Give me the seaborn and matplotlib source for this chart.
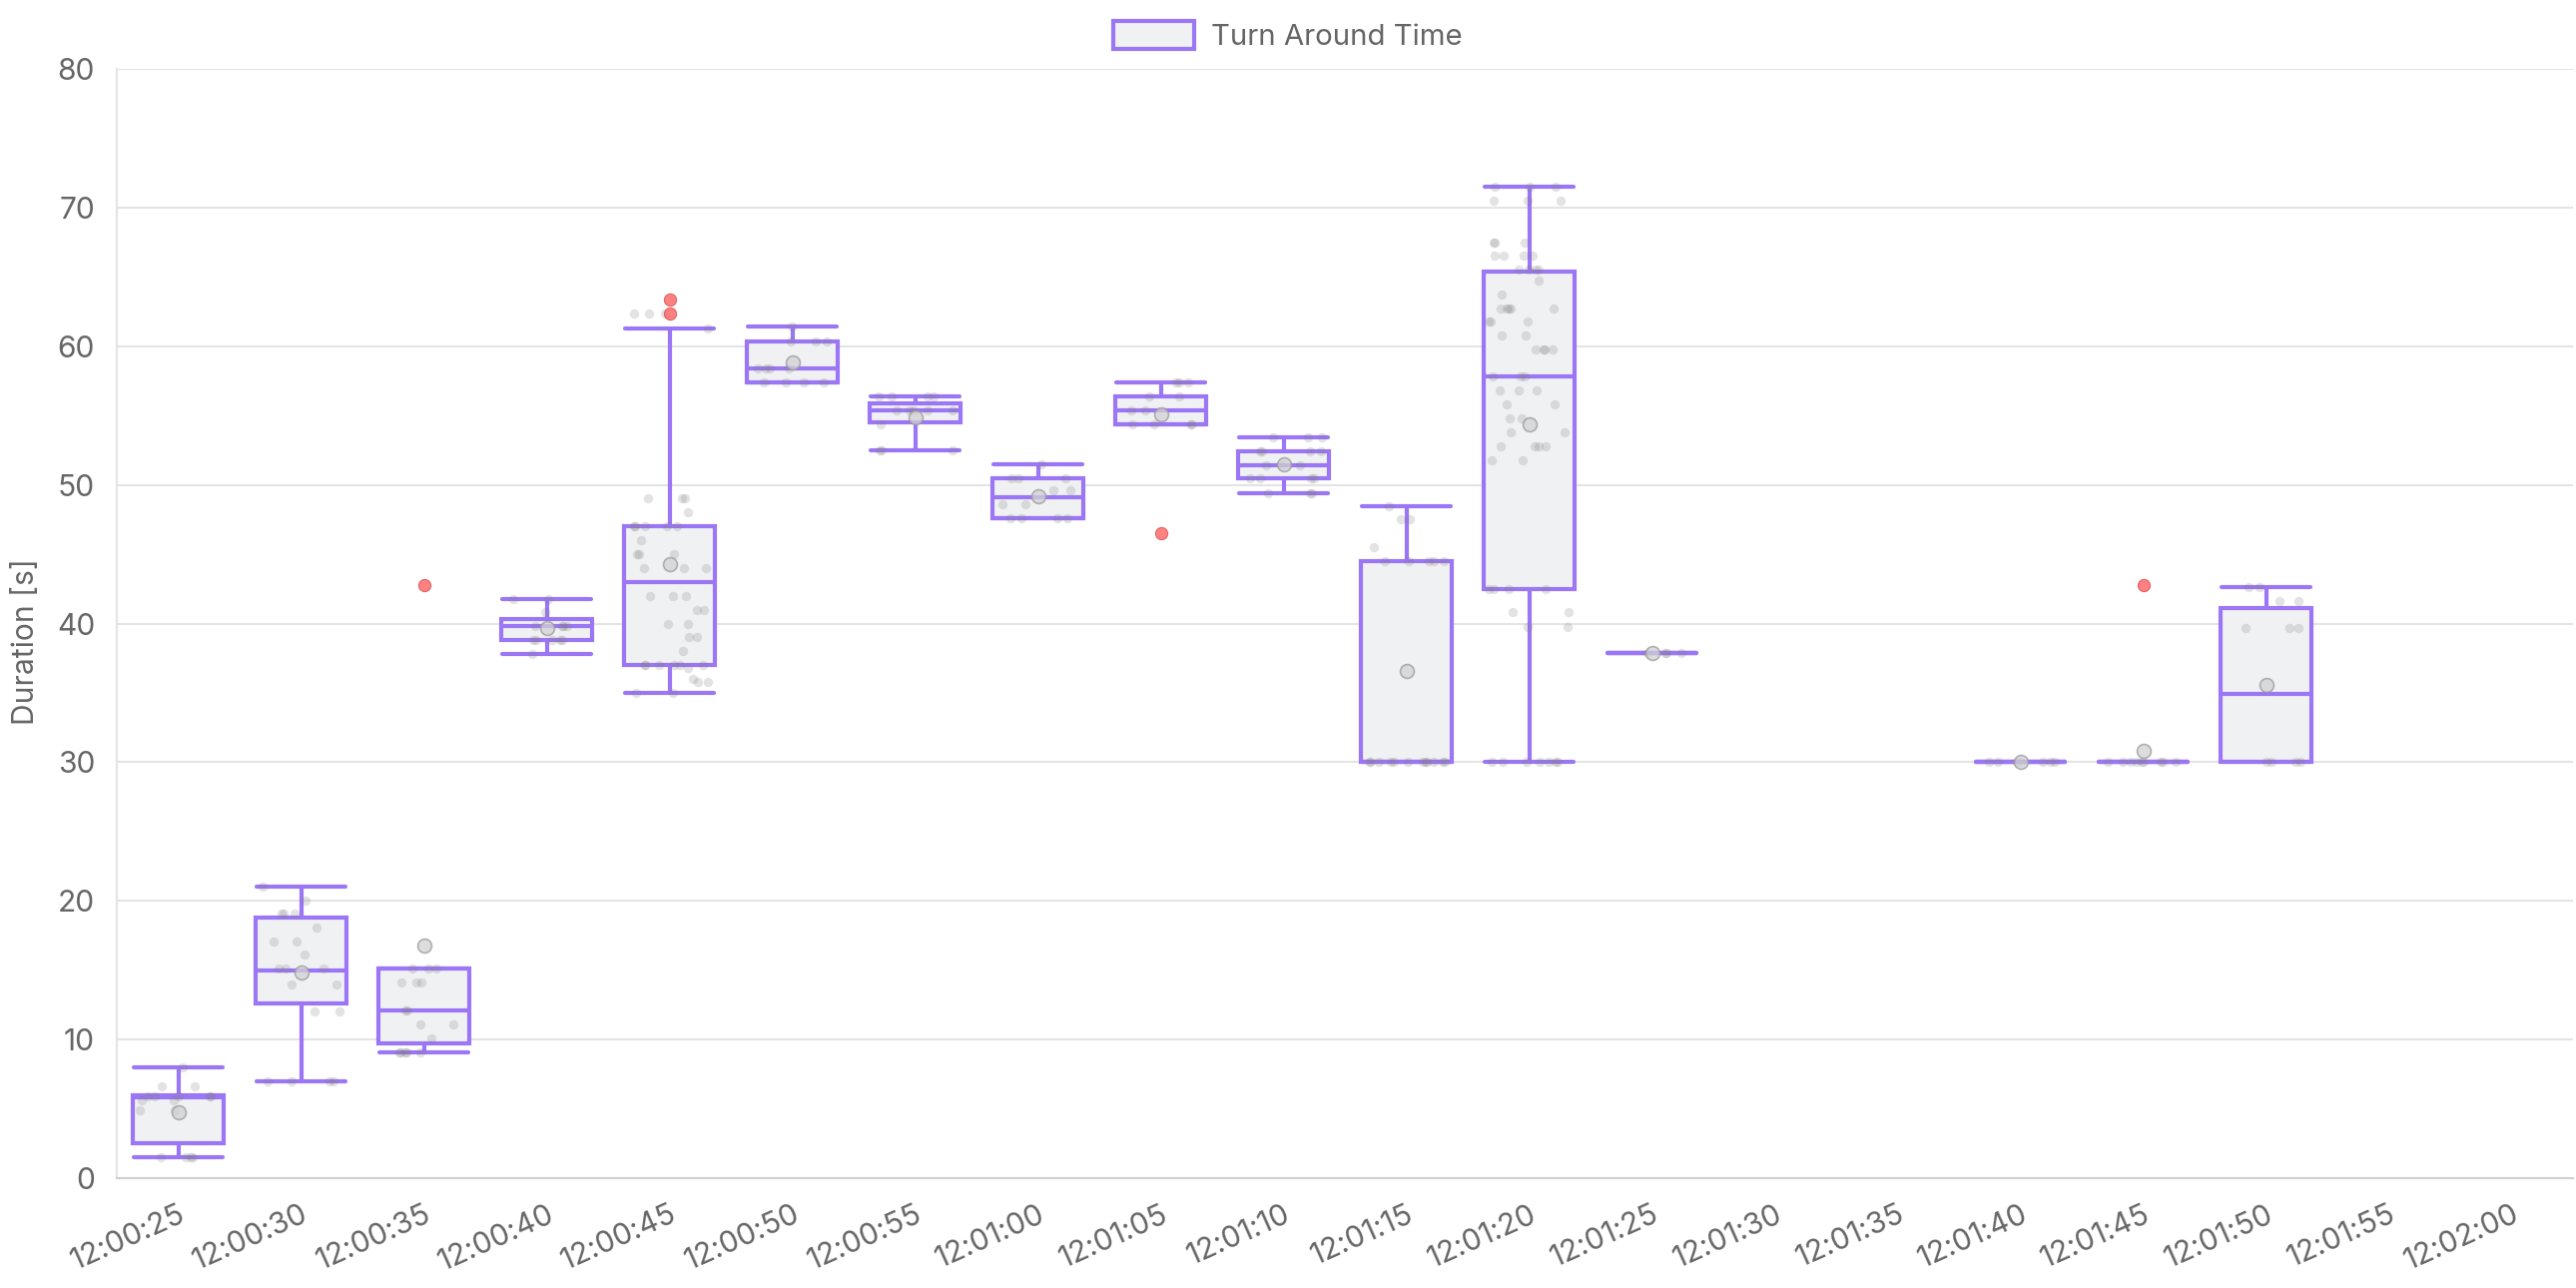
import numpy as np
import pandas as pd
import seaborn as sns
import matplotlib.pyplot as plt
from matplotlib.patches import Patch

# categories on the x axis
times = ['12:00:25', '12:00:30', '12:00:35', '12:00:40', '12:00:45', '12:00:50',
         '12:00:55', '12:01:00', '12:01:05', '12:01:10', '12:01:15', '12:01:20',
         '12:01:25', '12:01:30', '12:01:35', '12:01:40', '12:01:45', '12:01:50',
         '12:01:55', '12:02:00']

# box statistics for the slots that have data
box_times = ['12:00:25', '12:00:30', '12:00:35', '12:00:40', '12:00:45', '12:00:50',
             '12:00:55', '12:01:00', '12:01:05', '12:01:10', '12:01:15', '12:01:20',
             '12:01:25', '12:01:40', '12:01:45', '12:01:50']
lows = [1.5, 7.0, 9.1, 37.8, 35.0, 57.4, 52.5, 47.6, 54.4, 49.4, 30.0, 30.0, 37.9, 30.0, 30.0, 30.0]
q1s = [2.5, 12.6, 9.7, 38.8, 37.0, 57.4, 54.5, 47.6, 54.4, 50.45, 30.0, 42.5, 37.9, 30.0, 30.0, 30.0]
medians = [5.8, 15.0, 12.1, 39.8, 43.0, 58.4, 55.4, 49.1, 55.4, 51.4, 30.0, 57.8, 37.9, 30.0, 30.0, 34.9]
q3s = [6.0, 18.8, 15.1, 40.3, 47.0, 60.35, 55.9, 50.5, 56.4, 52.4, 44.5, 65.35, 37.9, 30.0, 30.0, 41.1]
highs = [8.0, 21.0, 15.1, 41.8, 61.3, 61.4, 56.4, 51.5, 57.4, 53.4, 48.45, 71.5, 37.9, 30.0, 30.0, 42.6]
means = [4.75, 14.8, 16.75, 39.7, 44.3, 58.8, 54.9, 49.2, 55.05, 51.5, 36.6, 54.4, 37.9, 30.0, 30.84, 35.6]

# outliers
outlier_times = ['12:00:35', '12:00:45', '12:00:45', '12:01:05', '12:01:45']
outlier_values = [42.8, 63.4, 62.35, 46.5, 42.8]

# raw samples per slot
p_0025 = [8.0, 6.6, 6.6, 5.9, 5.9, 5.9, 5.9, 5.9, 5.6, 5.6, 4.9, 4.9, 1.5, 1.5, 1.5, 1.5]
p_0030 = [21.0, 20.0, 19.1, 19.1, 19.1, 18.1, 17.1, 17.1, 16.1, 15.1, 15.1, 15.1,
          14.0, 14.0, 12.0, 12.0, 7.0, 7.0, 7.0, 7.0]
p_0035 = [15.1, 15.1, 15.1, 14.1, 14.1, 14.1, 12.1, 12.1, 11.1, 11.1, 10.1,
          9.1, 9.1, 9.1, 9.1, 9.1]
p_0040 = [41.8, 41.8, 40.8, 39.8, 39.8, 39.8, 39.8, 38.8, 38.8, 38.8, 38.8, 38.8, 37.8]
p_0045 = [62.35, 62.35, 62.35, 61.3, 49.05, 49.05, 49.05, 48.0, 47.0, 47.0, 47.0, 47.0, 47.0,
          46.0, 45.0, 45.0, 45.0, 44.0, 44.0, 44.0, 42.0, 42.0, 42.0, 41.0, 41.0,
          40.0, 40.0, 39.0, 39.0, 38.0, 37.0, 37.0, 37.0, 37.0, 37.0, 37.0,
          36.8, 36.0, 35.8, 35.8, 35.0, 35.0]
p_0050 = [61.4, 60.35, 60.35, 60.35, 58.4, 58.4, 58.4, 58.4, 57.4, 57.4, 57.4, 57.4]
p_0055 = [56.4, 56.4, 56.4, 56.4, 55.4, 55.4, 55.4, 55.4, 55.4, 54.4, 52.5, 52.5, 52.5]
p_0100 = [51.5, 50.5, 50.5, 50.5, 49.6, 49.6, 48.6, 48.6, 47.6, 47.6, 47.6, 47.6]
p_0105 = [57.4, 57.4, 57.4, 56.4, 56.4, 55.4, 55.4, 54.4, 54.4, 54.4, 54.4]
p_0110 = [53.4, 53.4, 53.4, 52.4, 52.4, 52.4, 52.4, 51.4, 51.4, 51.4,
          50.45, 50.45, 50.45, 50.45, 49.4, 49.4, 49.4]
p_0115 = [48.45, 47.5, 47.5, 45.5, 44.5, 44.5, 44.5, 44.5, 44.5,
          30.0, 30.0, 30.0, 30.0, 30.0, 30.0, 30.0, 30.0, 30.0, 30.0, 30.0, 30.0]
p_0120 = [71.5, 71.5, 71.5, 70.5, 70.5, 70.5, 67.5, 67.5, 67.5, 66.5, 66.5, 66.5, 66.5,
          65.5, 65.5, 65.5, 65.5, 64.7, 63.7, 62.75, 62.75, 62.75, 62.75, 62.75,
          61.75, 61.75, 61.75, 60.75, 60.75, 59.8, 59.8, 59.8, 59.8, 57.8, 57.8, 57.8,
          56.8, 56.8, 56.8, 55.8, 55.8, 54.8, 54.8, 53.8, 53.8, 52.8, 52.8, 52.8, 52.8,
          51.8, 51.8, 42.5, 42.5, 42.5, 42.5, 40.8, 40.8, 39.75, 39.75,
          30.0, 30.0, 30.0, 30.0, 30.0, 30.0, 30.0]
p_0125 = [37.9, 37.9, 37.9, 37.9]
p_0140 = [30.0, 30.0, 30.0, 30.0, 30.0, 30.0, 30.0]
p_0145 = [30.0, 30.0, 30.0, 30.0, 30.0, 30.0, 30.0, 30.0, 30.0]
p_0150 = [42.6, 42.6, 41.6, 41.6, 39.7, 39.7, 39.7, 30.0, 30.0, 30.0, 30.0]

samples = [p_0025, p_0030, p_0035, p_0040, p_0045, p_0050, p_0055, p_0100, p_0105,
           p_0110, p_0115, p_0120, p_0125, p_0140, p_0145, p_0150]

purple = '#9B76F5'
box_fill = '#F0F1F3'
text_col = '#666666'
grid_col = '#E4E4E4'

sns.set_style('white')
plt.rcParams['font.family'] = ['Inter', 'DejaVu Sans']

# long tables for seaborn
summary = pd.DataFrame({
    'time': np.repeat(box_times, 5),
    'value': np.column_stack([lows, q1s, medians, q3s, highs]).ravel(),
})
pts = pd.DataFrame({
    'time': np.concatenate([[t] * len(s) for t, s in zip(box_times, samples)]),
    'value': np.concatenate(samples),
})

fig = plt.figure(figsize=(12.9, 6.45), dpi=200)
ax = fig.add_axes([117 / 2580, 1 - 1180 / 1290, 2460 / 2580, 1111 / 1290])

sns.boxplot(data=summary, x='time', y='value', order=times, whis=(0, 100),
            width=0.74, color=box_fill, linecolor=purple, linewidth=1.5,
            saturation=1, showfliers=False, capwidths=0.72, ax=ax)

np.random.seed(3)
sns.stripplot(data=pts, x='time', y='value', order=times, jitter=0.33,
              size=3.4, color='#808080', alpha=0.22, linewidth=0, ax=ax)

sns.stripplot(x=box_times, y=means, order=times, jitter=False, size=5.0,
              color='#D2D2D5', edgecolor='#9A9A9A', linewidth=0.6, alpha=0.75, ax=ax)

sns.stripplot(x=outlier_times, y=outlier_values, order=times, jitter=False, size=4.4,
              color='#FF6B6B', edgecolor='#D95555', linewidth=0.4, alpha=0.85, ax=ax)

ax.set_xlim(-0.5, len(times) - 0.5)
ax.set_ylim(0, 80)
ax.set_yticks(range(0, 81, 10))
ax.yaxis.grid(True, color=grid_col, linewidth=0.75)
ax.xaxis.grid(False)
ax.set_axisbelow(True)
for side in ['top', 'right']:
    ax.spines[side].set_visible(False)
ax.spines['left'].set_color(grid_col)
ax.spines['left'].set_linewidth(0.75)
ax.spines['bottom'].set_color('#CFCFCF')
ax.spines['bottom'].set_linewidth(0.75)

ax.tick_params(axis='y', length=5.4, width=0.75, color=grid_col, pad=2.5,
               labelsize=10.8, labelcolor=text_col)
ax.tick_params(axis='x', length=0, pad=8, labelsize=10.8, labelcolor=text_col)
ax.set_xticks(range(len(times)))
ax.set_xticklabels(times, rotation=24, ha='right', rotation_mode='anchor')
ax.set_xlabel('')
ax.set_ylabel('')
fig.text(26 / 2580, 1 - 643 / 1290, 'Duration [s]', rotation=90, ha='center',
         va='center', fontsize=10.8, color=text_col)

fig.legend(handles=[Patch(facecolor=box_fill, edgecolor=purple, linewidth=1.5,
                          label='Turn Around Time')],
           loc='upper center', bbox_to_anchor=(0.5, 1.0), frameon=False,
           handlelength=2.74, handleheight=1.1, fontsize=10.6, labelcolor=text_col,
           borderaxespad=0.3, handletextpad=0.6)

fig.savefig('out.png', dpi=200)
